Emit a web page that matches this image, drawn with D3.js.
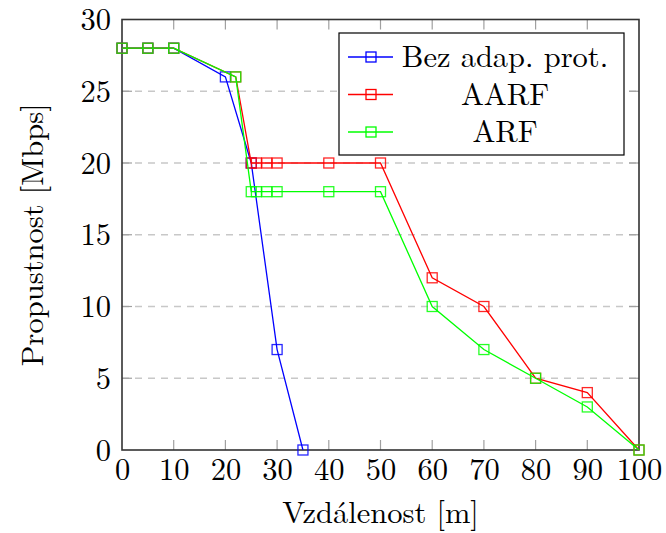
<!DOCTYPE html>
<html><head><meta charset="utf-8">
<script src="https://cdn.jsdelivr.net/npm/d3@7"></script>
<style>body{margin:0;background:#fff;}</style></head>
<body><svg id="c" width="666" height="533"></svg>
<script>
const xTicks=[0,10,20,30,40,50,60,70,80,90,100];
const yTicks=[0,5,10,15,20,25,30];
const seriesNames=["Bez adap. prot.","AARF","ARF"];
const seriesColors=["#0000ff","#ff0000","#00ff00"];
const bezX=[0,5,10,20,25,30,35];
const bezY=[28,28,28,26,20,7,0];
const aarfX=[0,5,10,22,25,26,28,30,40,50,60,70,80,90,100];
const aarfY=[28,28,28,26,20,20,20,20,20,20,12,10,5,4,0];
const arfX=[0,5,10,22,25,26,28,30,40,50,60,70,80,90,100];
const arfY=[28,28,28,26,18,18,18,18,18,18,10,7,5,3,0];
const xTitle="Vzdálenost [m]";
const yTitle="Propustnost [Mbps]";

const FONT='"Latin Modern Roman","CMU Serif","Liberation Serif",serif';
const FS=30.5;
const svg=d3.select("#c");
const L=122,R=639,T=19.5,B=450;
const x=d3.scaleLinear().domain([0,100]).range([L,R]);
const y=d3.scaleLinear().domain([0,30]).range([B,T]);

// grid
svg.append("g").selectAll("line").data(yTicks.filter(d=>d>0&&d<30)).join("line")
 .attr("x1",L).attr("x2",R).attr("y1",d=>y(d)).attr("y2",d=>y(d))
 .attr("stroke","#c8c8c8").attr("stroke-width",1.3).attr("stroke-dasharray","7,6");

// ticks (inward, gray) on all sides
const tg=svg.append("g").attr("stroke","#a0a0a0").attr("stroke-width",1.2);
xTicks.slice(1,-1).forEach(d=>{
  tg.append("line").attr("x1",x(d)).attr("x2",x(d)).attr("y1",B).attr("y2",B-10);
  tg.append("line").attr("x1",x(d)).attr("x2",x(d)).attr("y1",T).attr("y2",T+10);
});
yTicks.slice(1,-1).forEach(d=>{
  tg.append("line").attr("x1",L).attr("x2",L+10).attr("y1",y(d)).attr("y2",y(d));
  tg.append("line").attr("x1",R).attr("x2",R-10).attr("y1",y(d)).attr("y2",y(d));
});

// frame
svg.append("rect").attr("x",L).attr("y",T).attr("width",R-L).attr("height",B-T)
 .attr("fill","none").attr("stroke","#333").attr("stroke-width",1.6);

// axes labels via d3 axes (no lines)
const xa=svg.append("g").attr("transform",`translate(0,${B})`)
 .call(d3.axisBottom(x).tickValues(xTicks).tickSize(0).tickPadding(0));
xa.attr("font-family",FONT).attr("font-size",FS);
xa.select(".domain").remove();
xa.selectAll("text").attr("y",30).attr("dy",0).attr("fill","#000");
const ya=svg.append("g").attr("transform",`translate(${L},0)`)
 .call(d3.axisLeft(y).tickValues(yTicks).tickSize(0).tickPadding(0));
ya.attr("font-family",FONT).attr("font-size",FS);
ya.select(".domain").remove();
ya.selectAll("text").attr("x",-11).attr("dy","0.33em").attr("fill","#000");

// series
const data=[[bezX,bezY],[aarfX,aarfY],[arfX,arfY]];
const line=d3.line().x(d=>x(d[0])).y(d=>y(d[1]));
data.forEach((s,i)=>{
  const pts=s[0].map((v,j)=>[v,s[1][j]]);
  const g=svg.append("g");
  g.append("path").datum(pts).attr("d",line).attr("fill","none")
   .attr("stroke",seriesColors[i]).attr("stroke-width",1.3);
  g.selectAll("rect").data(pts).join("rect")
   .attr("x",d=>x(d[0])-5).attr("y",d=>y(d[1])-5).attr("width",10).attr("height",10)
   .attr("fill","none").attr("stroke",seriesColors[i]).attr("stroke-width",1.3).attr("stroke-opacity",0.85);
});

// titles
svg.append("text").attr("x",(L+R)/2).attr("y",523).attr("text-anchor","middle")
 .attr("font-family",FONT).attr("font-size",FS).text(xTitle);
svg.append("text").attr("transform",`translate(43,${(T+B)/2}) rotate(-90)`)
 .attr("text-anchor","middle").attr("font-family",FONT).attr("font-size",FS).text(yTitle);

// legend
const lg=svg.append("g");
lg.append("rect").attr("x",339).attr("y",33).attr("width",285).attr("height",122)
 .attr("fill","#fff").attr("stroke","#000").attr("stroke-width",1.2);
const rows=[57,94.5,132];
seriesNames.forEach((n,i)=>{
  lg.append("line").attr("x1",348).attr("x2",393).attr("y1",rows[i]).attr("y2",rows[i])
   .attr("stroke",seriesColors[i]).attr("stroke-width",1.3);
  lg.append("rect").attr("x",371-5).attr("y",rows[i]-5).attr("width",10).attr("height",10)
   .attr("fill","none").attr("stroke",seriesColors[i]).attr("stroke-width",1.3);
  lg.append("text").attr("x",505).attr("y",rows[i]).attr("dy","0.33em").attr("text-anchor","middle")
   .attr("font-family",FONT).attr("font-size",FS).text(n);
});
</script></body></html>
